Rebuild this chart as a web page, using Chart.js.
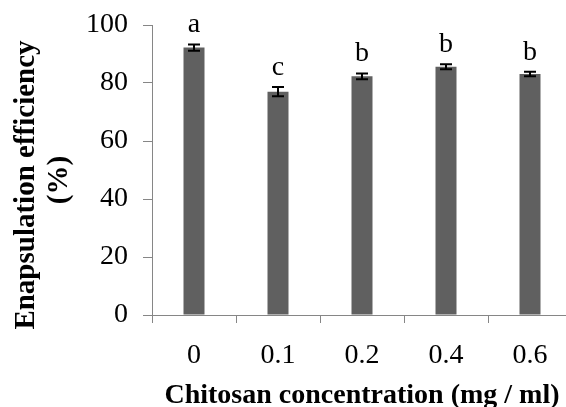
<!DOCTYPE html>
<html>
<head>
<meta charset="utf-8">
<script src="https://cdn.jsdelivr.net/npm/chart.js@4/dist/chart.umd.min.js"></script>
<style>
  html, body { margin: 0; padding: 0; background: #fff; overflow: hidden; }
  #wrap { width: 580px; height: 407px; }
</style>
</head>
<body>
<div id="wrap"><canvas id="c" width="580" height="407"></canvas></div>
<script>
const categories = ['0', '0.1', '0.2', '0.4', '0.6'];
const values = [92.2, 77.0, 82.3, 85.6, 83.1];
const errors = [1.1, 1.6, 1.0, 0.9, 0.8];
const letters = ['a', 'c', 'b', 'b', 'b'];
const yTicks = [0, 20, 40, 60, 80, 100];

const AXIS = '#868686';
const SERIF = '"Liberation Serif", "Times New Roman", serif';

// error bars, letters and axis titles
const extras = {
  id: 'extras',
  afterDatasetsDraw(chart) {
    const ctx = chart.ctx;
    const y = chart.scales.y;
    const meta = chart.getDatasetMeta(0);
    ctx.save();
    meta.data.forEach((bar, i) => {
      const x = Math.round(bar.x);
      const top = y.getPixelForValue(values[i] + errors[i]);
      const bot = y.getPixelForValue(values[i] - errors[i]);
      ctx.strokeStyle = '#000';
      ctx.lineWidth = 2;
      ctx.beginPath();
      ctx.moveTo(x, top); ctx.lineTo(x, bot);
      ctx.moveTo(x - 6, top); ctx.lineTo(x + 6, top);
      ctx.moveTo(x - 6, bot); ctx.lineTo(x + 6, bot);
      ctx.stroke();

      ctx.fillStyle = '#000';
      ctx.font = '28px ' + SERIF;
      ctx.textAlign = 'center';
      ctx.textBaseline = 'alphabetic';
      ctx.fillText(letters[i], x, top - 12);
    });

    ctx.fillStyle = '#000';
    ctx.textAlign = 'center';
    ctx.textBaseline = 'alphabetic';
    ctx.font = 'bold 28px ' + SERIF;
    ctx.fillText('Chitosan concentration (mg / ml)', 362, 403);

    ctx.font = 'bold 29px ' + SERIF;
    ctx.save();
    ctx.translate(34, 185);
    ctx.rotate(-Math.PI / 2);
    ctx.fillText('Enapsulation efficiency', 0, 0);
    ctx.restore();
    ctx.save();
    ctx.translate(67, 180);
    ctx.rotate(-Math.PI / 2);
    ctx.fillText('(%)', 0, 0);
    ctx.restore();
    ctx.restore();
  }
};

new Chart(document.getElementById('c'), {
  type: 'bar',
  data: {
    labels: categories,
    datasets: [{
      data: values,
      backgroundColor: '#606060',
      borderWidth: 0,
      barPercentage: 0.25,
      categoryPercentage: 1.0
    }]
  },
  options: {
    responsive: false,
    animation: false,
    events: [],
    layout: { padding: { left: 0, top: 25, right: 8, bottom: 0 } },
    plugins: { legend: { display: false }, tooltip: { enabled: false } },
    scales: {
      x: {
        grid: { drawOnChartArea: false, drawTicks: true, tickLength: 8, color: AXIS, offset: true },
        border: { color: AXIS, width: 1 },
        ticks: { color: '#000', font: { family: SERIF, size: 28 }, padding: 16 },
        afterFit(s) { s.height = 92; s.paddingLeft = 0; s.paddingRight = 0; }
      },
      y: {
        min: 0,
        max: 100,
        afterBuildTicks(s) { s.ticks = yTicks.map(v => ({ value: v })); },
        grid: { drawOnChartArea: false, drawTicks: true, tickLength: 9, color: AXIS },
        border: { color: AXIS, width: 1 },
        ticks: { color: '#000', font: { family: SERIF, size: 28 }, padding: 15 },
        afterFit(s) { s.width = 152; s.paddingTop = 0; s.paddingBottom = 0; }
      }
    }
  },
  plugins: [extras]
});
</script>
</body>
</html>
